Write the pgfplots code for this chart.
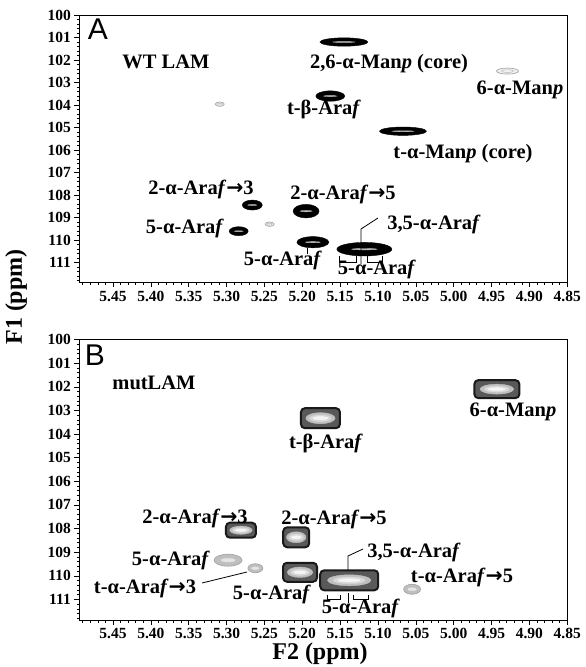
\documentclass[border=0pt]{standalone}
\usepackage{pgfplots}
\pgfplotsset{compat=1.18}
\usepackage{pgfplotstable}
\usepackage{fontspec}
\setmainfont{Liberation Serif}
\newfontfamily\arialf{Liberation Sans}
\newfontfamily\symf{DejaVu Sans}
\newcommand\arr{{\symf\bfseries →}}

% peak shapes (half widths \pw, half heights \ph in pt)
\pgfdeclareplotmark{pkA}{%
  \fill[black] (0pt,0pt) ellipse [x radius=\pw pt, y radius=\ph pt];
  \fill[gray!55] (0pt,0pt) ellipse [x radius=0.45*\pw pt, y radius=0.1*\ph pt];
}
\pgfdeclareplotmark{pkF}{%
  \draw[gray!70, line width=0.7pt, fill=gray!12] (0pt,0pt) ellipse [x radius=\pw pt, y radius=\ph pt];
  \draw[gray!60, line width=0.4pt] (0pt,0pt) ellipse [x radius=0.55*\pw pt, y radius=0.45*\ph pt];
}
\pgfdeclareplotmark{pkB}{%
  \draw[black!90, line width=2pt, fill=black!65, rounded corners=4pt] (-\pw pt,-\ph pt) rectangle (\pw pt,\ph pt);
  \fill[gray!50] (0pt,0pt) ellipse [x radius=0.75*\pw pt, y radius=0.55*\ph pt];
  \fill[gray!30] (0pt,0pt) ellipse [x radius=0.55*\pw pt, y radius=0.33*\ph pt];
  \fill[gray!8] (0pt,0pt) ellipse [x radius=0.38*\pw pt, y radius=0.16*\ph pt];
}
\pgfdeclareplotmark{pkG}{%
  \draw[gray!75, line width=0.6pt, fill=gray!50] (0pt,0pt) ellipse [x radius=\pw pt, y radius=\ph pt];
  \fill[gray!20] (0pt,0pt) ellipse [x radius=0.5*\pw pt, y radius=0.3*\ph pt];
}

% Panel A peaks: x (ppm) y (ppm) half-width half-height (pt)
\pgfplotstableread{
x y w h
5.145 101.20 24 4.2
5.163 103.60 14.5 5.2
5.067 105.16 23.5 4.2
5.266 108.44 10 5
5.284 109.60 9.5 4.5
5.195 108.71 13 6.8
5.186 110.09 16 5.6
5.118 110.40 27.5 6.8
}\peaksAdark
\pgfplotstableread{
x y w h
4.929 102.49 11 3
5.309 103.96 4.5 2.2
5.243 109.29 4.5 2.2
}\peaksAfaint
% Panel B peaks
\pgfplotstableread{
x y w h
4.943 102.10 22.5 9
5.176 103.33 19.5 10
5.281 108.07 15 7.5
5.208 108.37 13 10
5.203 109.85 17 9.5
5.138 110.19 29 10
}\peaksBdark
\pgfplotstableread{
x y w h
5.298 109.34 14 6
5.262 109.68 7.5 4.5
5.055 110.57 8.5 5
}\peaksBgray

\pgfplotsset{nmrax/.style={
  scale only axis, width=488pt,
  x dir=reverse, y dir=reverse,
  xmin=4.85, xmax=5.4945, ymin=100, ymax=111.87,
  xtick={4.85,4.9,4.95,5,5.05,5.1,5.15,5.2,5.25,5.3,5.35,5.4,5.45,5.5},
  ytick={100,101,102,103,104,105,106,107,108,109,110,111,112},
  minor x tick num=4, minor y tick num=4,
  tick align=outside, xtick pos=left, ytick pos=left,
  major tick length=5pt, minor tick length=2.5pt,
  /pgf/number format/assume math mode=true,
  xticklabel style={/pgf/number format/.cd, fixed, fixed zerofill, precision=2},
  yticklabel style={/pgf/number format/.cd, fixed, precision=0},
  ticklabel style={font=\fontsize{15.5}{15.5}\selectfont\bfseries},
  axis line style={line width=0.6pt},
  every tick/.style={black, line width=0.5pt},
  clip=false,
  pkstyle/.style={scatter, only marks,
    visualization depends on={\thisrow{w}\as\pw},
    visualization depends on={\thisrow{h}\as\ph}},
}}

\newcommand\labfont{\fontsize{20.5}{22}\selectfont\bfseries}
\newcommand\lab[3]{\node[anchor=base, font=\labfont, inner sep=0pt] at (#1,#2+7) {#3};}

\begin{document}
\begin{tikzpicture}
\useasboundingbox (0,0) rectangle (586pt,667pt);

\begin{axis}[nmrax, at={(79.3pt,384.7pt)}, anchor=south west, height=267.3pt]
\addplot[pkstyle, mark=pkA] table {\peaksAdark};
\addplot[pkstyle, mark=pkF] table {\peaksAfaint};
\end{axis}

\begin{axis}[nmrax, at={(79.3pt,47pt)}, anchor=south west, height=280.5pt]
\addplot[pkstyle, mark=pkB] table {\peaksBdark};
\addplot[pkstyle, mark=pkG] table {\peaksBgray};
\end{axis}

\begin{scope}[x=1pt, y=-1pt, yshift=667pt]
% panel A
\node[font=\arialf\fontsize{30}{30}\selectfont, inner sep=0pt] at (98,29) {A};
\lab{166}{62}{WT LAM}
\lab{389}{62}{2,6-α-Man\textit{p} (core)}
\lab{520}{88}{6-α-Man\textit{p}}
\lab{324}{108}{t-β-Ara\textit{f}}
\lab{463}{152}{t-α-Man\textit{p} (core)}
\lab{201}{188}{2-α-Ara\textit{f}\arr3}
\lab{185}{227}{5-α-Ara\textit{f}}
\lab{343}{193}{2-α-Ara\textit{f}\arr5}
\lab{434}{223}{3,5-α-Ara\textit{f}}
\lab{283}{259}{5-α-Ara\textit{f}}
\lab{377}{268}{5-α-Ara\textit{f}}
\draw[line width=0.8pt] (378,218) -- (361,229) -- (361,264);
\draw[line width=0.8pt] (339,256) -- (339,262) -- (356,262) -- (356,256);
\draw[line width=0.8pt] (367,256) -- (367,262) -- (382,262) -- (382,256);
\draw[line width=0.8pt] (307,248) -- (307,254);
% panel B
\node[font=\arialf\fontsize{30}{30}\selectfont, inner sep=0pt] at (95,355) {B};
\lab{154}{383}{mutLAM}
\lab{513}{410}{6-α-Man\textit{p}}
\lab{326}{442}{t-β-Ara\textit{f}}
\lab{195}{517}{2-α-Ara\textit{f}\arr3}
\lab{171}{559}{5-α-Ara\textit{f}}
\lab{145}{587}{t-α-Ara\textit{f}\arr3}
\lab{334}{518}{2-α-Ara\textit{f}\arr5}
\lab{272}{593}{5-α-Ara\textit{f}}
\lab{414}{551}{3,5-α-Ara\textit{f}}
\lab{462}{576}{t-α-Ara\textit{f}\arr5}
\lab{361}{607}{5-α-Ara\textit{f}}
\draw[line width=0.8pt] (202,583) -- (247,572);
\draw[line width=0.8pt] (363,549) -- (348,556) -- (348,570);
\draw[line width=0.8pt] (327,595) -- (327,599) -- (340,599) -- (340,595);
\draw[line width=0.8pt] (348,593) -- (348,603);
\draw[line width=0.8pt] (353,595) -- (353,599) -- (368,599) -- (368,595);
% axis titles
\node[font=\fontsize{24}{24}\selectfont\bfseries, rotate=90, inner sep=0pt] at (16,297) {F1 (ppm)};
\node[font=\fontsize{24}{24}\selectfont\bfseries, inner sep=0pt, anchor=base] at (320,660) {F2 (ppm)};
\end{scope}
\end{tikzpicture}
\end{document}
